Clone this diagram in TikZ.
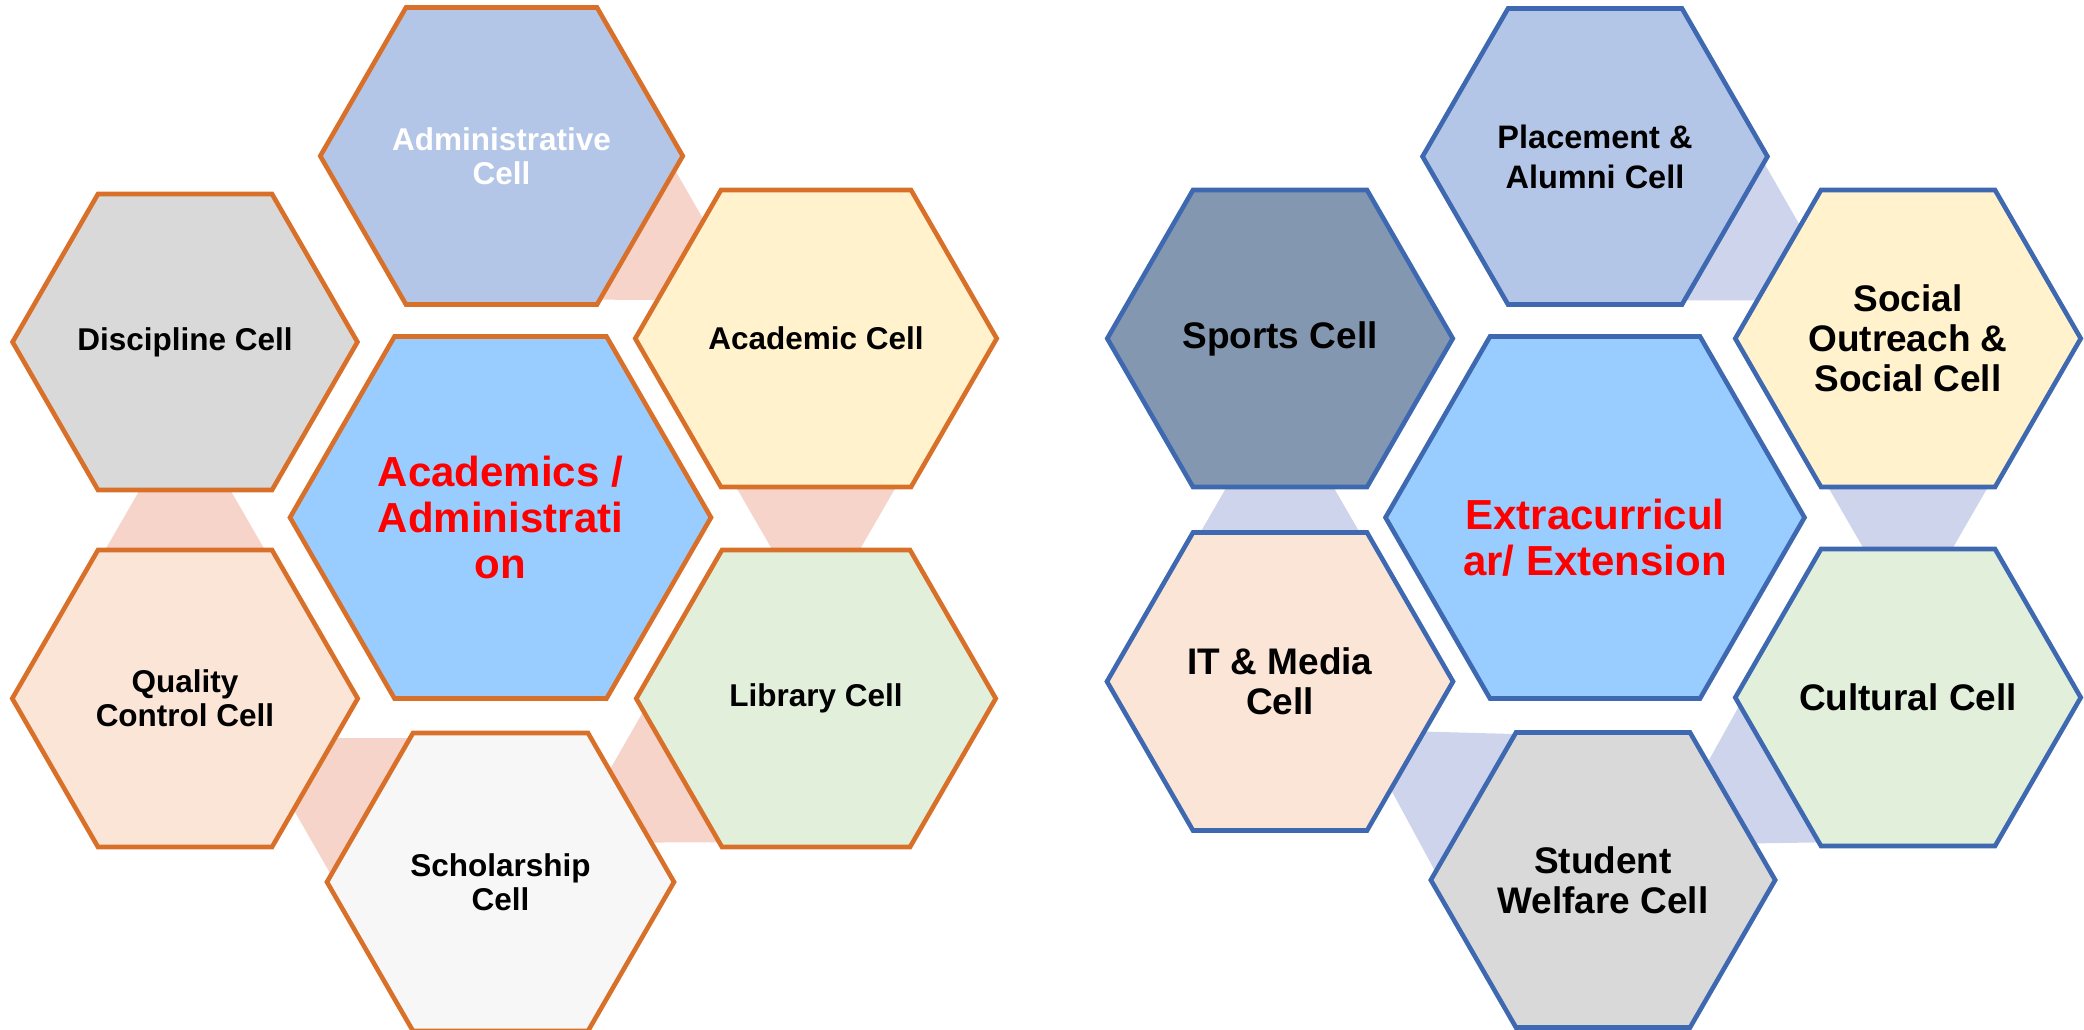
\documentclass[tikz,border=0pt]{standalone}
\usepackage{fontspec}
\setmainfont{Liberation Sans}
\usetikzlibrary{calc}
\pgfdeclarelayer{background}
\pgfsetlayers{background,main}
\definecolor{strokeL}{RGB}{216,112,42}
\definecolor{strokeR}{RGB}{62,104,176}
\definecolor{linkL}{RGB}{246,212,202}
\definecolor{linkR}{RGB}{206,212,236}
\definecolor{admblue}{HTML}{B4C6E7}
\definecolor{grayfill}{HTML}{D9D9D9}
\definecolor{yelfill}{HTML}{FFF2CC}
\definecolor{ctrfill}{HTML}{99CCFF}
\definecolor{peachfill}{HTML}{FBE5D6}
\definecolor{greenfill}{HTML}{E2EFDA}
\definecolor{whitefill}{HTML}{F7F7F7}
\definecolor{sportfill}{HTML}{8497B0}
\definecolor{redtext}{HTML}{FF0000}
\newcommand{\hexcell}[5]{%
  \path[#1] ({#2-#4-0.57735*#5},{#3}) -- ({#2-#4},{#3-#5}) -- ({#2+#4},{#3-#5})
    -- ({#2+#4+0.57735*#5},{#3}) -- ({#2+#4},{#3+#5}) -- ({#2-#4},{#3+#5}) -- cycle;}
\newcommand{\linkcells}[3]{%
  \fill[#1] ($(#2)!287pt!(#3)$) coordinate (apex)
    -- ($(apex)!250pt!30:(#2)$) -- ($(apex)!250pt!-30:(#2)$) -- cycle;}
\tikzset{
  hexL/.style={draw=strokeL, line width=4.6pt},
  hexR/.style={draw=strokeR, line width=4.6pt},
  txtL/.style={align=center, inner sep=0pt, font=\bfseries\fontsize{31.5}{34}\selectfont},
  txtP/.style={align=center, inner sep=0pt, font=\bfseries\fontsize{32.5}{40}\selectfont},
  txtR/.style={align=center, inner sep=0pt, font=\bfseries\fontsize{37}{40}\selectfont},
  txtC/.style={align=center, inner sep=0pt, text=redtext, font=\bfseries\fontsize{42}{46}\selectfont},
}
\begin{document}
\begin{tikzpicture}[x=1pt, y=-1pt]
\useasboundingbox (0,0) rectangle (2084,1029);
% ---------- left cluster ----------
\hexcell{hexL,fill=admblue}{501.5}{156}{95.5}{148.5}
\node[txtL, text=white] (admin) at (501.5,156) {Administrative\\Cell};
\hexcell{hexL,fill=grayfill}{185}{342}{87}{148}
\node[txtL] (disc) at (185,342) {Discipline Cell};
\hexcell{hexL,fill=yelfill}{816}{338.5}{95}{148.5}
\node[txtL] (acad) at (816,338.5) {Academic Cell};
\hexcell{hexL,fill=ctrfill}{500.5}{517.5}{106}{181}
\node[txtC] (ctrL) at (500.5,517.5) {Academics /\\Administrati\\on};
\hexcell{hexL,fill=peachfill}{185}{698.5}{87}{148.5}
\node[txtL] (qual) at (185,698.5) {Quality\\Control Cell};
\hexcell{hexL,fill=greenfill}{816}{698.5}{94}{148.5}
\node[txtL] (lib) at (816,698.5) {Library Cell};
\hexcell{hexL,fill=whitefill}{500.5}{882}{87.5}{149}
\node[txtL] (schol) at (500.5,882) {Scholarship\\Cell};
% ---------- right cluster ----------
\hexcell{hexR,fill=admblue}{1595}{156.5}{87}{148}
\node[txtP] (place) at (1595,156.5) {Placement \&\\Alumni Cell};
\hexcell{hexR,fill=sportfill}{1280}{338.5}{87}{148.5}
\node[txtR] (sport) at (1280,338.5) {Sports Cell};
\hexcell{hexR,fill=yelfill}{1908}{338.5}{87}{148.5}
\node[txtR] (social) at (1908,338.5) {Social\\Outreach \&\\Social Cell};
\hexcell{hexR,fill=ctrfill}{1595}{517.5}{105}{181}
\coordinate (ctrRc) at (1595,517.5);
\node[txtC] (ctrR) at (1595,538) {Extracurricul\\ar/ Extension};
\hexcell{hexR,fill=peachfill}{1280}{681.5}{87}{149}
\node[txtR] (itm) at (1280,681.5) {IT \& Media\\Cell};
\hexcell{hexR,fill=greenfill}{1908}{697.5}{87}{148.5}
\node[txtR] (cult) at (1908,697.5) {Cultural Cell};
\hexcell{hexR,fill=grayfill}{1603}{880}{87}{147.5}
\node[txtR] (welf) at (1603,880) {Student\\Welfare Cell};
% ---------- connectors (behind) ----------
\begin{pgfonlayer}{background}
\linkcells{linkL}{admin}{acad}
\linkcells{linkL}{acad}{lib}
\linkcells{linkL}{lib}{schol}
\linkcells{linkL}{schol}{qual}
\linkcells{linkL}{qual}{disc}
\linkcells{linkR}{place}{social}
\linkcells{linkR}{social}{cult}
\linkcells{linkR}{cult}{welf}
\linkcells{linkR}{welf}{itm}
\linkcells{linkR}{itm}{sport}
\end{pgfonlayer}
\end{tikzpicture}
\end{document}
